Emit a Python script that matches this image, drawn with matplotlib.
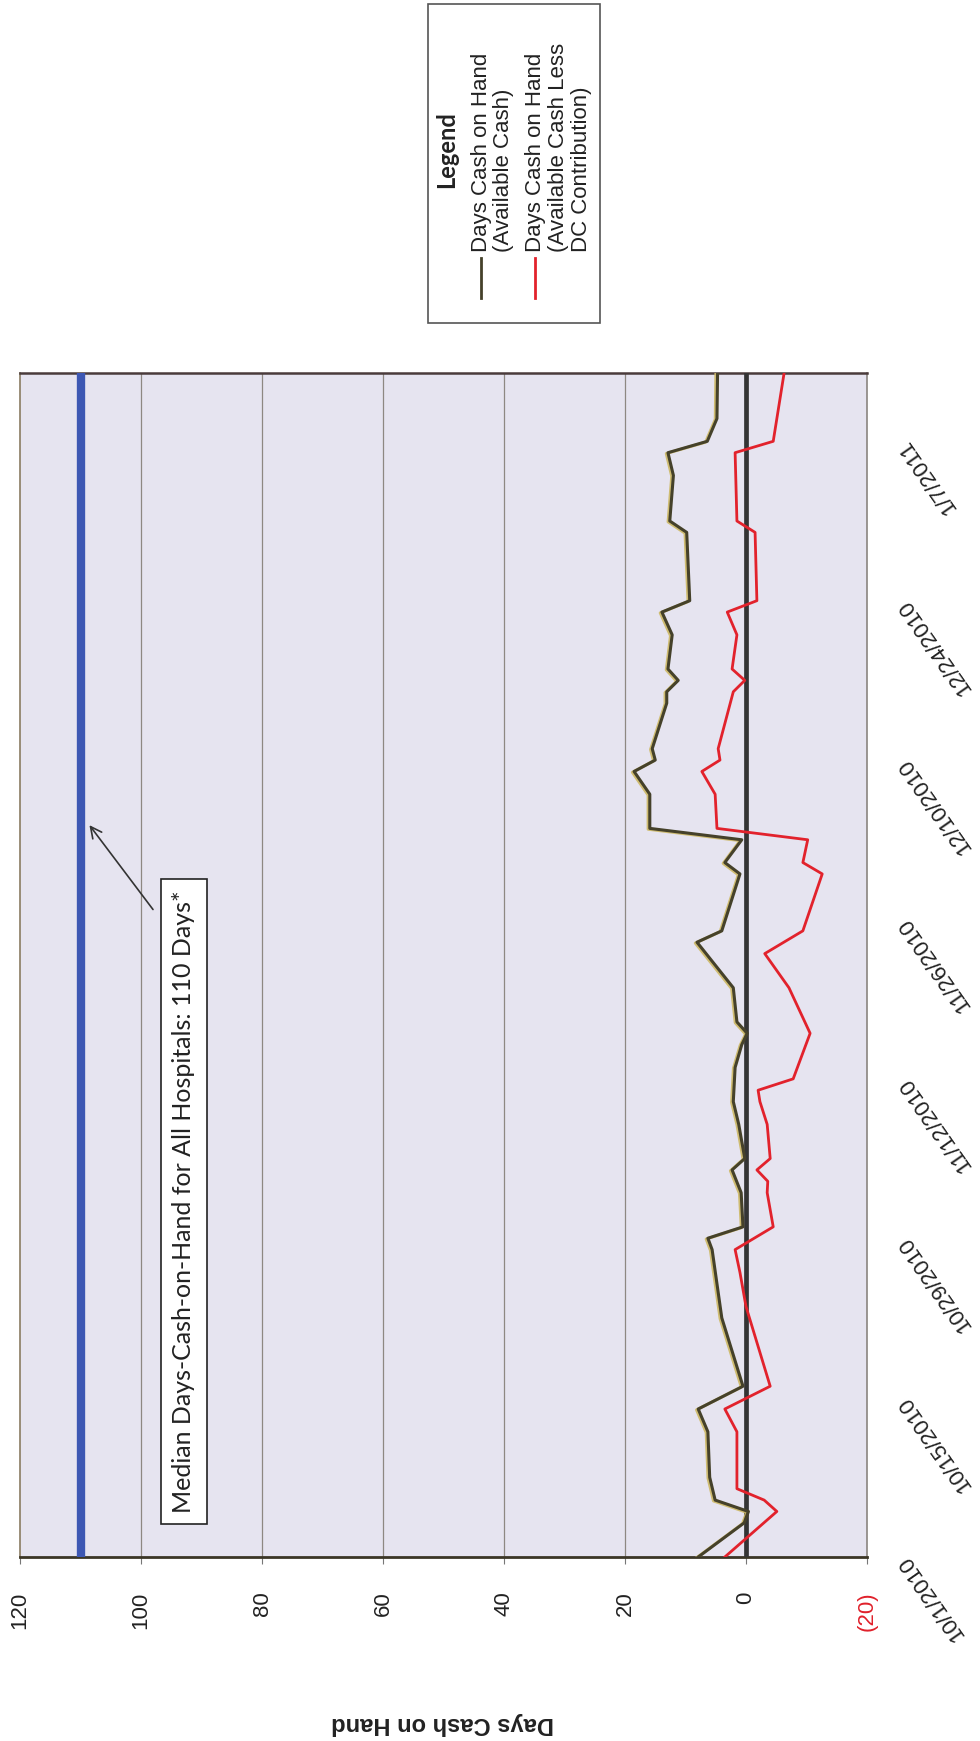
"""Days cash on hand chart, drawn in portrait (page turned a quarter to the left)."""
import matplotlib

matplotlib.use("Agg")
import matplotlib.patheffects as pe
import matplotlib.pyplot as plt
import pandas as pd
from matplotlib.lines import Line2D
from matplotlib.patches import Rectangle

# Days cash on hand, available cash
cash_dates = [
    "2010-10-01", "2010-10-04", "2010-10-05", "2010-10-06", "2010-10-08",
    "2010-10-12", "2010-10-14", "2010-10-16", "2010-10-22", "2010-10-28",
    "2010-10-29", "2010-10-30", "2010-11-02", "2010-11-04", "2010-11-05",
    "2010-11-08", "2010-11-10", "2010-11-13", "2010-11-15", "2010-11-16",
    "2010-11-17", "2010-11-20", "2010-11-24", "2010-11-25", "2010-11-30",
    "2010-12-01", "2010-12-03", "2010-12-04", "2010-12-07", "2010-12-09",
    "2010-12-10", "2010-12-11", "2010-12-15", "2010-12-16", "2010-12-17",
    "2010-12-18", "2010-12-21", "2010-12-23", "2010-12-24", "2010-12-30",
    "2010-12-31", "2011-01-04", "2011-01-06", "2011-01-07", "2011-01-09",
    "2011-01-13",
]
cash_days = [
    7.9, 0.3, -0.4, 5.1, 6.0, 6.3, 7.9, 0.5, 4.0, 5.6,
    6.3, 0.5, 0.8, 2.3, 0.2, 1.2, 2.1, 1.8, 0.7, -0.2,
    1.5, 2.1, 8.1, 4.0, 1.0, 3.5, 0.7, 15.9, 15.9, 18.5,
    15.0, 15.5, 13.1, 13.1, 11.2, 12.9, 12.2, 13.9, 9.3, 9.8,
    12.6, 12.0, 12.9, 6.4, 4.8, 4.7,
]

# Days cash on hand, available cash less DC contribution
less_dc_dates = [
    "2010-10-01", "2010-10-05", "2010-10-06", "2010-10-07", "2010-10-12",
    "2010-10-14", "2010-10-16", "2010-10-23", "2010-10-26", "2010-10-28",
    "2010-10-30", "2010-11-02", "2010-11-03", "2010-11-04", "2010-11-05",
    "2010-11-08", "2010-11-10", "2010-11-11", "2010-11-12", "2010-11-16",
    "2010-11-20", "2010-11-23", "2010-11-25", "2010-11-30", "2010-12-01",
    "2010-12-03", "2010-12-04", "2010-12-07", "2010-12-09", "2010-12-10",
    "2010-12-11", "2010-12-16", "2010-12-17", "2010-12-18", "2010-12-21",
    "2010-12-23", "2010-12-24", "2010-12-30", "2010-12-31", "2011-01-06",
    "2011-01-07", "2011-01-13",
]
less_dc_days = [
    3.5, -5.1, -3.0, 1.5, 1.5, 3.5, -4.0, 0.0, 1.0, 1.8,
    -4.5, -3.5, -3.6, -1.8, -4.0, -3.5, -2.3, -2.0, -7.8, -10.6,
    -7.1, -3.1, -9.4, -12.6, -9.4, -10.2, 4.8, 5.1, 7.3, 4.3,
    4.6, 2.1, 0.2, 2.3, 1.5, 3.1, -1.8, -1.5, 1.5, 1.8,
    -4.5, -6.3,
]

median_days = 110
value_ticks = [120, 100, 80, 60, 40, 20, 0, -20]
grid_values = [100, 80, 60, 40, 20]
date_ticks = pd.date_range("2010-10-01", "2011-01-07", freq="14D")

W, H = 980, 1741
ARIAL = ["Liberation Sans", "DejaVu Sans"]
CALIBRI = ["Lato", "DejaVu Sans"]
plt.rcParams["font.family"] = ARIAL

OLIVE = "#45412a"
RED = "#e2222c"


def fx(px):
    return px / W


def fy(py):
    return 1 - py / H


fig = plt.figure(figsize=(W / 100, H / 100), dpi=100)
fig.patch.set_facecolor("white")
ax = fig.add_axes([fx(20), fy(1557), (867 - 20) / W, (1557 - 373) / H])
ax.set_facecolor("#e6e4f0")

cash_t = pd.to_datetime(cash_dates)
less_t = pd.to_datetime(less_dc_dates)

# values run along x (120 on the left), dates run up the page
ax.set_xlim(120, -20)
ax.set_ylim(cash_t[0], cash_t[-1])

for v in grid_values:
    ax.axvline(v, color="#8e8882", lw=0.9, zorder=1)
ax.axvline(0, color="#343434", lw=3.4, zorder=3)

ax.plot([median_days, median_days], [cash_t[0], cash_t[-1]],
        color="#3d57b3", lw=6, solid_capstyle="round", zorder=4)
ax.plot(cash_days, cash_t, color=OLIVE, lw=2.2, zorder=5,
        path_effects=[pe.SimpleLineShadow(offset=(-1.2, -0.6),
                                          shadow_color="#cdb864", alpha=0.9),
                      pe.Normal()])
ax.plot(less_dc_days, less_t, color=RED, lw=2.0, zorder=5)

# value axis along the bottom, labels turned with the page
ax.set_xticks(value_ticks)
ax.set_xticklabels([f"({-v})" if v < 0 else str(v) for v in value_ticks],
                   rotation=90, fontsize=16)
for lbl, v in zip(ax.get_xticklabels(), value_ticks):
    lbl.set_color("#e0202a" if v < 0 else "#222222")
ax.tick_params(axis="x", direction="out", length=5, width=0.8,
               color="#777777", pad=20)

# date axis on the right
ax.yaxis.tick_right()
ax.set_yticks(date_ticks)
ax.set_yticklabels([f"{d.month}/{d.day}/{d.year}" for d in date_ticks],
                   rotation=125, rotation_mode="anchor", ha="right",
                   va="center", fontsize=16, color="#222222")
ax.tick_params(axis="y", length=0, pad=26)

ax.spines["bottom"].set_color("#3b3626")
ax.spines["bottom"].set_linewidth(2.0)
ax.spines["top"].set_color("#4a3b3b")
ax.spines["top"].set_linewidth(1.8)
ax.spines["left"].set_color("#8a7c62")
ax.spines["left"].set_linewidth(1.2)
ax.spines["right"].set_color("#8a8580")
ax.spines["right"].set_linewidth(1.2)

fig.text(fx(443), fy(1723), "Days Cash on Hand", rotation=180,
         ha="center", va="center", fontsize=17, fontweight="bold",
         color="#222222")

# median callout
ax.text(0.1936, 0.30, "Median Days-Cash-on-Hand for All Hospitals: 110 Days*",
        transform=ax.transAxes, rotation=90, ha="center", va="center",
        fontsize=18, family=CALIBRI, color="#222222", zorder=6,
        bbox=dict(boxstyle="square,pad=0.45", fc="white", ec="#222222", lw=1.2))
ax.annotate("", xy=(0.080, 0.62), xycoords="axes fraction",
            xytext=(0.159, 0.545), textcoords="axes fraction",
            arrowprops=dict(arrowstyle="->", color="#333333", lw=1.2,
                            mutation_scale=20), zorder=6)

# legend box, drawn by hand so its text can turn with the page
fig.add_artist(Rectangle((fx(428), fy(323)), (600 - 428) / W, (323 - 4) / H,
                         transform=fig.transFigure, fill=False,
                         ec="#555555", lw=1.2))
fig.text(fx(447), fy(150), "Legend", rotation=90, ha="center", va="center",
         fontsize=17, fontweight="bold", family=CALIBRI, color="#222222")

legend_entries = [
    (["Days Cash on Hand", "(Available Cash)"], OLIVE, 481),
    (["Days Cash on Hand", "(Available Cash Less", "DC Contribution)"],
     RED, 535),
]
for lines, color, x0 in legend_entries:
    fig.add_artist(Line2D([fx(x0), fx(x0)], [fy(298), fy(258)],
                          transform=fig.transFigure, color=color, lw=2))
    for i, line in enumerate(lines):
        fig.text(fx(x0 + 23 * i), fy(252), line, rotation=90, ha="center",
                 va="bottom", fontsize=16, color="#222222")

fig.savefig("out.png", dpi=100)
plt.close(fig)
